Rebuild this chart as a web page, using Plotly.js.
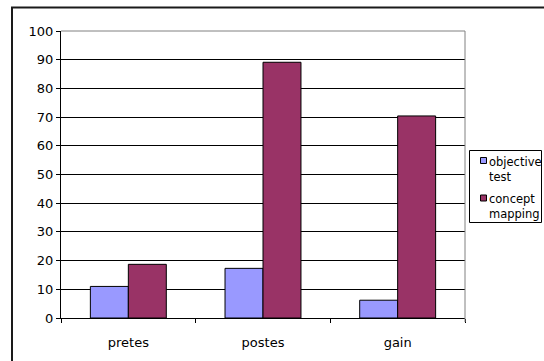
<!DOCTYPE html>
<html>
<head>
<meta charset="utf-8">
<script src="https://cdn.plot.ly/plotly-3.0.1.min.js"></script>
<style>
  html, body { margin: 0; padding: 0; background: #fff; }
  #chart { width: 544px; height: 361px; }
</style>
</head>
<body>
<div id="chart"></div>
<script>
// Test scores by phase
const categories = ['pretes', 'postes', 'gain'];
const seriesNames = ['objective test', 'concept mapping'];
const objectiveTest = [11, 17.3, 6.2];
const conceptMapping = [18.7, 89.1, 70.4];
const yTickValues = [0, 10, 20, 30, 40, 50, 60, 70, 80, 90, 100];

const seriesColors = ['#9999FF', '#993366'];

// Page geometry (pixels)
const W = 544, H = 361;
const M = { l: 61, r: 79, t: 31, b: 43 };
const pw = W - M.l - M.r, ph = H - M.t - M.b;
const px = x => (x - M.l) / pw;          // pixel x -> paper x
const py = y => (H - M.b - y) / ph;      // pixel y -> paper y

const font = 'DejaVu Sans, Arial, sans-serif';

const traces = [objectiveTest, conceptMapping].map((vals, i) => ({
  type: 'bar',
  x: categories,
  y: vals,
  name: seriesNames[i],
  marker: { color: seriesColors[i], line: { color: '#000', width: 1 } },
  showlegend: false,
  hoverinfo: 'x+y'
}));

// Small legend in the right margin
const legendBox = { x0: 469.5, x1: 541.5, y0: 150.5, y1: 222.5 };
const legendRows = [
  { sq: 157.5, text: 152.5 },
  { sq: 195.0, text: 190.0 }
];

const shapes = [
  // outer frame (left and top edges)
  { type: 'line', xref: 'paper', yref: 'paper', x0: px(12), x1: px(12), y0: py(7.5), y1: py(400), line: { color: '#1a1a1a', width: 2 } },
  { type: 'line', xref: 'paper', yref: 'paper', x0: px(11), x1: px(600), y0: py(7.5), y1: py(7.5), line: { color: '#1a1a1a', width: 2 } },
  // grey plot border on top and right
  { type: 'line', xref: 'paper', yref: 'paper', x0: 0, x1: 1, y0: 1, y1: 1, layer: 'above', line: { color: '#808080', width: 1 } },
  { type: 'line', xref: 'paper', yref: 'paper', x0: 1, x1: 1, y0: py(H - M.b + 4), y1: 1, layer: 'above', line: { color: '#808080', width: 1 } },
  // legend frame
  { type: 'rect', xref: 'paper', yref: 'paper', x0: px(legendBox.x0), x1: px(legendBox.x1), y0: py(legendBox.y1), y1: py(legendBox.y0), line: { color: '#000', width: 1 }, fillcolor: '#fff' }
];

const annotations = [];
seriesNames.forEach((name, i) => {
  const r = legendRows[i];
  shapes.push({
    type: 'rect', xref: 'paper', yref: 'paper',
    x0: px(480.5), x1: px(486.5), y0: py(r.sq + 6), y1: py(r.sq),
    fillcolor: seriesColors[i], line: { color: '#000', width: 1 }
  });
  annotations.push({
    xref: 'paper', yref: 'paper', x: px(487), y: py(r.text),
    xanchor: 'left', yanchor: 'top', align: 'left', showarrow: false,
    text: name.replace(' ', '<br>'),
    font: { family: font, size: 11.5, color: '#000' }
  });
});

const layout = {
  width: W, height: H,
  margin: M,
  paper_bgcolor: '#fff', plot_bgcolor: '#fff',
  barmode: 'group', bargap: 0.436, bargroupgap: 0,
  showlegend: false,
  font: { family: font, size: 13, color: '#000' },
  xaxis: {
    type: 'category',
    showline: true, linecolor: '#000', linewidth: 1,
    ticks: 'outside', tickson: 'boundaries', ticklen: 4, tickcolor: '#000',
    showgrid: false, zeroline: false,
    ticklabelstandoff: 12,
    tickfont: { family: font, size: 13, color: '#000' }
  },
  yaxis: {
    range: [0, 100], tickvals: yTickValues, ticktext: yTickValues.map(String),
    showline: true, linecolor: '#000', linewidth: 1,
    ticks: 'outside', ticklen: 4, tickcolor: '#000',
    showgrid: true, gridcolor: '#000', gridwidth: 1,
    zeroline: false,
    tickfont: { family: font, size: 13, color: '#000' }
  },
  shapes: shapes,
  annotations: annotations
};

Plotly.newPlot('chart', traces, layout, { staticPlot: true, displayModeBar: false });
</script>
</body>
</html>
